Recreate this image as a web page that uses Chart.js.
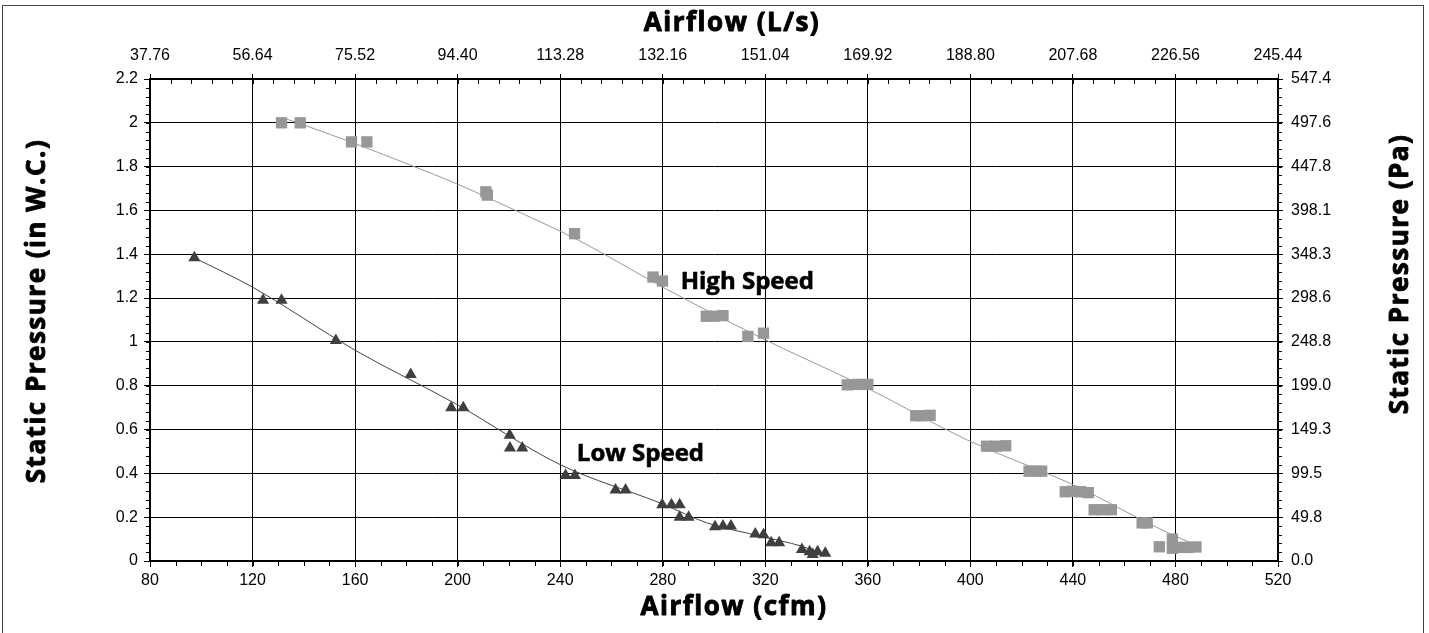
<!DOCTYPE html>
<html lang="en">
<head>
<meta charset="UTF-8">
<title>Fan Curve - Airflow vs Static Pressure</title>
<script src="https://cdn.jsdelivr.net/npm/chart.js"></script>
<style>
    html, body { margin: 0; padding: 0; background: #fff; }
    #wrap { width: 1429px; height: 633px; position: relative; }
</style>
</head>
<body>
<div id="wrap"><canvas id="fanChart"></canvas></div>
<script>
// axis ticks (bottom = cfm, top = L/s, left = in W.C., right = Pa)
const cfmTicks = [80, 120, 160, 200, 240, 280, 320, 360, 400, 440, 480, 520];
const litreLabels = ['37.76', '56.64', '75.52', '94.40', '113.28', '132.16', '151.04', '169.92', '188.80', '207.68', '226.56', '245.44'];
const inchTicks = [0, 0.2, 0.4, 0.6, 0.8, 1, 1.2, 1.4, 1.6, 1.8, 2, 2.2];
const inchLabels = ['0', '0.2', '0.4', '0.6', '0.8', '1', '1.2', '1.4', '1.6', '1.8', '2', '2.2'];
const pascalLabels = ['0.0', '49.8', '99.5', '149.3', '199.0', '248.8', '298.6', '348.3', '398.1', '447.8', '497.6', '547.4'];

// measured points - high speed
const highCfm = [131.3, 138.6, 158.6, 164.6, 211.0, 211.6, 245.6, 276.2, 279.9, 297.0, 300.0, 303.5, 313.2, 319.3,
    352.0, 356.0, 360.0, 378.7, 381.5, 384.3, 406.3, 410.0, 413.8, 422.9, 425.5, 427.8, 437.0, 440.0, 443.0, 446.0,
    448.3, 451.5, 455.0, 467.0, 469.0, 473.7, 478.8, 478.8, 482.0, 485.0, 488.0];
const highPress = [2.0, 2.0, 1.913, 1.913, 1.685, 1.67, 1.494, 1.296, 1.278, 1.117, 1.117, 1.12, 1.025, 1.04,
    0.804, 0.806, 0.806, 0.663, 0.663, 0.665, 0.524, 0.524, 0.526, 0.41, 0.41, 0.41, 0.316, 0.318, 0.316, 0.312,
    0.234, 0.234, 0.234, 0.174, 0.174, 0.065, 0.1, 0.058, 0.062, 0.062, 0.064];

// measured points - low speed
const lowCfm = [97.3, 124.1, 131.3, 152.5, 181.7, 197.5, 202.2, 220.3, 220.4, 225.2, 242.1, 245.7, 261.6, 265.5,
    279.8, 283.4, 286.6, 286.6, 290.1, 300.4, 303.5, 306.6, 316.1, 319.3, 322.3, 325.4, 334.3, 337.3, 340.4, 343.4, 338.5];
const lowPress = [1.384, 1.19, 1.19, 1.007, 0.851, 0.699, 0.699, 0.574, 0.516, 0.516, 0.39, 0.39, 0.324, 0.324,
    0.257, 0.257, 0.257, 0.2, 0.2, 0.156, 0.16, 0.16, 0.123, 0.12, 0.083, 0.083, 0.053, 0.042, 0.042, 0.035, 0.03];

// trend lines
const highFitCfm = [131.3, 140, 160, 182, 200, 222.6, 247.3, 280, 319, 359, 399, 439, 479, 490];
const highFitPress = [2.025, 1.99, 1.905, 1.805, 1.72, 1.60, 1.463, 1.25, 1.015, 0.794, 0.551, 0.354, 0.118, 0.066];
const lowFitCfm = [97.3, 120, 160, 199, 240, 280, 297, 319, 334, 344];
const lowFitPress = [1.384, 1.25, 0.962, 0.719, 0.44, 0.26, 0.175, 0.111, 0.068, 0.025];

// series labels placed in the plot (cfm, in W.C.)
const seriesNotes = [
    { text: 'High Speed', cfm: 287, press: 1.272 },
    { text: 'Low Speed', cfm: 246.5, press: 0.488 }
];

const toPoints = (xs, ys) => xs.map((x, i) => ({ x: x, y: ys[i] }));

const TICK_FONT = { family: "'Liberation Sans', Arial, sans-serif", size: 16 };
const TITLE_FONT = "bold 26px 'Open Sans', sans-serif";

// bold text with a thin outline so it reads as heavy as the original
function heavyText(ctx, text, x, y) {
    ctx.strokeText(text, x, y);
    ctx.fillText(text, x, y);
}

// white page, outer frame, minor ticks, axis titles and series labels
const decorPlugin = {
    id: 'decor',
    beforeDraw(chart) {
        const ctx = chart.ctx;
        ctx.save();
        ctx.fillStyle = '#fff';
        ctx.fillRect(0, 0, chart.width, chart.height);
        ctx.restore();
    },
    afterDraw(chart) {
        const ctx = chart.ctx;
        const { x, x2, y, y2 } = chart.scales;
        const area = chart.chartArea;
        ctx.save();

        // frame
        ctx.strokeStyle = '#444';
        ctx.lineWidth = 1;
        ctx.strokeRect(2.5, 5.5, 1421, 660);

        // minor ticks
        ctx.strokeStyle = '#000';
        ctx.beginPath();
        for (let v = 80; v <= 520; v += 10) {
            const px = Math.round(x.getPixelForValue(v)) + 0.5;
            ctx.moveTo(px, area.bottom);
            ctx.lineTo(px, area.bottom + 5);
        }
        for (let v = 80; v <= 520; v += 8) {
            const px = Math.round(x2.getPixelForValue(v)) + 0.5;
            ctx.moveTo(px, area.top);
            ctx.lineTo(px, area.top + 5);
        }
        for (let k = 0; k <= 55; k++) {
            const v = k * 0.04;
            const py = Math.round(y.getPixelForValue(v)) + 0.5;
            ctx.moveTo(area.left - 4, py);
            ctx.lineTo(area.left, py);
            const py2 = Math.round(y2.getPixelForValue(v)) + 0.5;
            ctx.moveTo(area.right, py2);
            ctx.lineTo(area.right + 4, py2);
        }
        ctx.stroke();

        // axis titles
        ctx.fillStyle = '#000';
        ctx.strokeStyle = '#000';
        ctx.lineWidth = 0.9;
        ctx.lineJoin = 'round';
        ctx.font = TITLE_FONT;
        ctx.letterSpacing = '1.5px';
        ctx.textAlign = 'center';
        ctx.textBaseline = 'alphabetic';
        heavyText(ctx, 'Airflow (L/s)', 732, 31);
        heavyText(ctx, 'Airflow (cfm)', 734, 615);

        ctx.save();
        ctx.translate(45, 311);
        ctx.rotate(-Math.PI / 2);
        heavyText(ctx, 'Static Pressure (in W.C.)', 0, 0);
        ctx.restore();

        ctx.save();
        ctx.translate(1408, 274);
        ctx.rotate(-Math.PI / 2);
        heavyText(ctx, 'Static Pressure (Pa)', 0, 0);
        ctx.restore();

        // series labels
        ctx.letterSpacing = '0px';
        ctx.lineWidth = 0.6;
        ctx.font = "bold 24px 'Open Sans', sans-serif";
        ctx.textAlign = 'left';
        ctx.textBaseline = 'middle';
        seriesNotes.forEach(n => {
            heavyText(ctx, n.text, x.getPixelForValue(n.cfm), y.getPixelForValue(n.press));
        });
        ctx.restore();
    }
};

const ctx = document.getElementById('fanChart').getContext('2d');
const chart = new Chart(ctx, {
    type: 'scatter',
    data: {
        datasets: [
            {
                label: 'High Speed',
                data: toPoints(highCfm, highPress),
                pointStyle: 'rect',
                pointRadius: 8,
                pointBorderWidth: 0,
                backgroundColor: '#979797',
                borderColor: '#979797',
                showLine: false
            },
            {
                label: 'Low Speed',
                data: toPoints(lowCfm, lowPress),
                pointStyle: 'triangle',
                pointRadius: 7,
                pointBorderWidth: 0,
                backgroundColor: '#3f3f3f',
                borderColor: '#3f3f3f',
                showLine: false
            },
            {
                label: 'High Speed fit',
                data: toPoints(highFitCfm, highFitPress),
                showLine: true,
                pointRadius: 0,
                borderColor: '#9a9a9a',
                borderWidth: 1,
                cubicInterpolationMode: 'monotone'
            },
            {
                label: 'Low Speed fit',
                data: toPoints(lowFitCfm, lowFitPress),
                showLine: true,
                pointRadius: 0,
                borderColor: '#444',
                borderWidth: 1,
                cubicInterpolationMode: 'monotone'
            }
        ]
    },
    options: {
        responsive: true,
        maintainAspectRatio: false,
        animation: false,
        layout: { padding: 0 },
        plugins: {
            legend: { display: false },
            tooltip: { enabled: false }
        },
        scales: {
            x: {
                type: 'linear',
                position: 'bottom',
                min: 80,
                max: 520,
                afterBuildTicks: s => { s.ticks = cfmTicks.map(v => ({ value: v })); },
                afterFit: s => { s.height = 72; },
                grid: { color: '#000', lineWidth: 1, tickLength: 6, tickColor: '#000' },
                border: { color: '#000', width: 2 },
                ticks: { color: '#000', font: TICK_FONT, padding: 4, maxRotation: 0,
                    callback: (v, i) => String(cfmTicks[i]) }
            },
            x2: {
                type: 'linear',
                position: 'top',
                min: 80,
                max: 520,
                afterBuildTicks: s => { s.ticks = cfmTicks.map(v => ({ value: v })); },
                afterFit: s => { s.height = 79; },
                grid: { drawOnChartArea: false, tickLength: 5, tickColor: '#000' },
                border: { color: '#000', width: 2 },
                ticks: { color: '#000', font: TICK_FONT, padding: 9, maxRotation: 0,
                    callback: (v, i) => litreLabels[i] }
            },
            y: {
                type: 'linear',
                position: 'left',
                min: 0,
                max: 2.2,
                afterBuildTicks: s => { s.ticks = inchTicks.map(v => ({ value: v })); },
                afterFit: s => { s.width = 150; },
                grid: { color: '#000', lineWidth: 1, tickLength: 6, tickColor: '#000' },
                border: { color: '#000', width: 2 },
                ticks: { color: '#000', font: TICK_FONT, padding: 6,
                    callback: (v, i) => inchLabels[i] }
            },
            y2: {
                type: 'linear',
                position: 'right',
                min: 0,
                max: 2.2,
                afterBuildTicks: s => { s.ticks = inchTicks.map(v => ({ value: v })); },
                afterFit: s => { s.width = 151; },
                grid: { drawOnChartArea: false, tickLength: 5, tickColor: '#000' },
                border: { color: '#000', width: 2 },
                ticks: { color: '#000', font: TICK_FONT, padding: 8,
                    callback: (v, i) => pascalLabels[i] }
            }
        }
    },
    plugins: [decorPlugin]
});
</script>
</body>
</html>
